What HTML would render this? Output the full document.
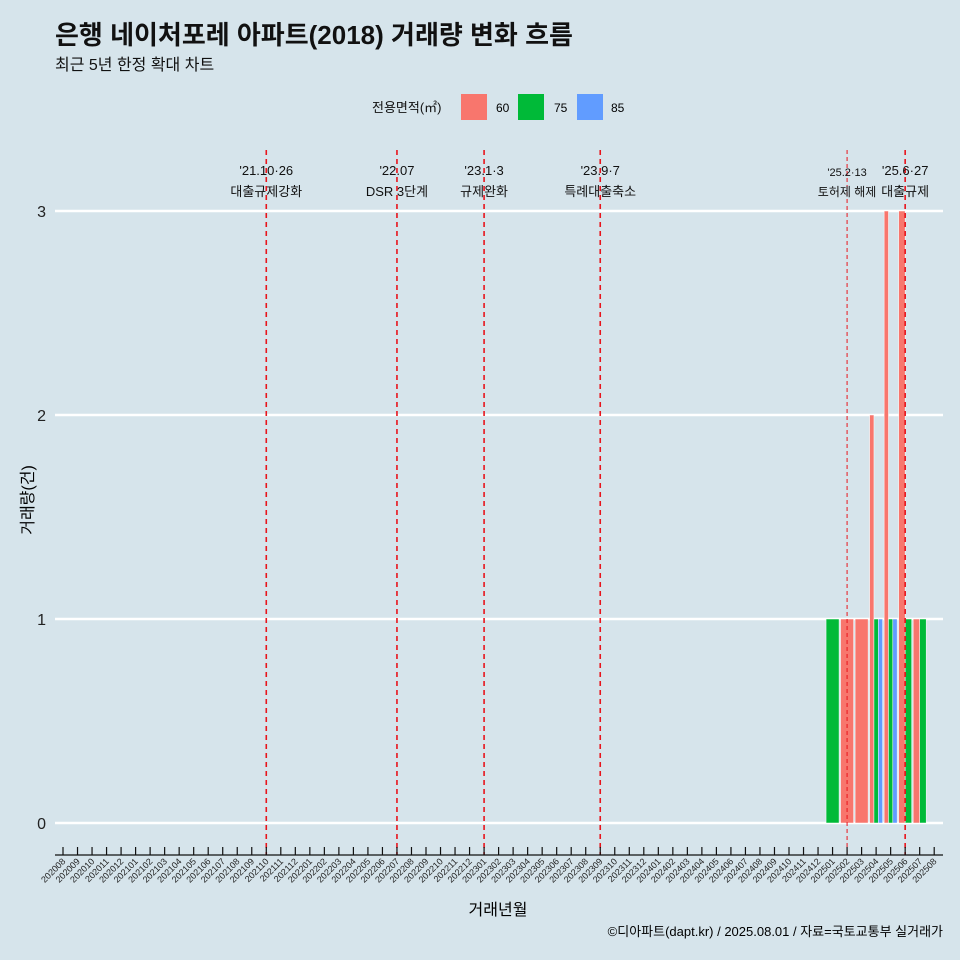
<!DOCTYPE html>
<html><head><meta charset="utf-8"><style>
html,body{margin:0;padding:0;width:960px;height:960px;overflow:hidden;background:#d6e4eb;font-family:"Liberation Sans","Noto Sans CJK KR",sans-serif}
svg{display:block}
</style></head><body>
<svg id="c" width="960" height="960" xmlns="http://www.w3.org/2000/svg" style="font-family:'Liberation Sans','Noto Sans CJK KR',sans-serif">
<rect width="960" height="960" fill="#d6e4eb"/>
<text x="55" y="44" font-size="26" font-weight="bold" fill="#111">은행 네이처포레 아파트(2018) 거래량 변화 흐름</text>
<text x="55" y="70" font-size="16" fill="#111">최근 5년 한정 확대 차트</text>
<g>
<text x="372" y="112" font-size="13" fill="#111">전용면적(㎡)</text>
<rect x="461" y="94" width="26" height="26" fill="#f8766d"/>
<text x="496" y="112" font-size="12">60</text>
<rect x="518" y="94" width="26" height="26" fill="#00ba38"/>
<text x="554" y="112" font-size="12">75</text>
<rect x="577" y="94" width="26" height="26" fill="#619cff"/>
<text x="611" y="112" font-size="12">85</text>
</g>
<g id="grid"></g><g id="bars"></g><g id="events"></g><g id="xaxis"></g>
<text x="33" y="500" font-size="16" text-anchor="middle" transform="rotate(-90 33 500)">거래량(건)</text>
<text x="498" y="915" font-size="16" text-anchor="middle">거래년월</text>
<text x="943" y="936" font-size="13" text-anchor="end">©디아파트(dapt.kr) / 2025.08.01 / 자료=국토교통부 실거래가</text>
</svg>
<script>
const months=[];for(let y=2020,m=8;y*100+m<=202508;){months.push(String(y*100+m));m++;if(m>12){m=1;y++;}}
const barMonths=["202501","202502","202503","202504","202504","202504","202505","202505","202505","202506","202506","202507","202507"];
const barSizes=["75","60","60","60","75","85","60","75","85","60","75","60","75"];
const barValues=[1,1,1,2,1,1,3,1,1,3,1,1,1];
const yTicks=[0,1,2,3];
const eventMonths=["202110","202207","202301","202309","202502","202506"];
const eventDates=["'21.10·26","'22.07","'23.1·3","'23.9·7","'25.2·13","'25.6·27"];
const eventLabels=["대출규제강화","DSR 3단계","규제완화","특례대출축소","토허제 해제","대출규제"];
const NS="http://www.w3.org/2000/svg";
const colors={"60":"#f8766d","75":"#00ba38","85":"#619cff"};
const x=m=>63+14.52*months.indexOf(m);
const y=v=>823-204*v;
function mk(t,a,p){const e=document.createElementNS(NS,t);for(const k in a)e.setAttribute(k,a[k]);document.getElementById(p).appendChild(e);return e;}
yTicks.forEach(v=>{
 const l=mk('line',{x1:55,x2:943,y1:y(v),y2:y(v),stroke:'#fff','stroke-width':2.5},'grid');
 
 
 const t=mk('text',{x:46,y:y(v)+6,'font-size':16,'text-anchor':'end',fill:'#222'},'grid');t.textContent=v;
 
 
});
const groups={};barMonths.forEach((m,i)=>{(groups[m]=groups[m]||[]).push(i);});
for(const m in groups){const idx=groups[m];const w=13/idx.length;idx.forEach((i,k)=>{
 const x0=x(m)-6.5+k*w;
 const r=mk('rect',{x:x0,y:y(barValues[i]),width:w,height:y(0)-y(barValues[i]),fill:colors[barSizes[i]],stroke:'#fff','stroke-width':0.5},'bars');
 
 
});}
eventMonths.forEach((m,i)=>{
 const small=i===4;
 const l=mk('line',{x1:x(m),x2:x(m),y1:150,y2:855,stroke:'#e8141c','stroke-width':small?1:1.6,'stroke-dasharray':small?'4,3':'5,4'},'events');
 
 
 const t1=mk('text',{x:x(m),y:small?176:175,'font-size':small?11:13,'text-anchor':'middle',fill:'#111'},'events');t1.textContent=eventDates[i];
 
 
 const t2=mk('text',{x:x(m),y:196,'font-size':small?12:13,'text-anchor':'middle',fill:'#111'},'events');t2.textContent=eventLabels[i];
 
 
});
const ax=mk('line',{x1:55,x2:943,y1:855,y2:855,stroke:'#111','stroke-width':1.2},'xaxis');


months.forEach(m=>{
 const tk=mk('line',{x1:x(m),x2:x(m),y1:847,y2:855,stroke:'#111','stroke-width':1.2},'xaxis');
 
 
 const t=mk('text',{x:x(m)+3,y:862,'font-size':9,'text-anchor':'end',fill:'#222',transform:`rotate(-45 ${x(m)+3} 862)`},'xaxis');t.textContent=m;
 
 
});
</script>
</body></html>
